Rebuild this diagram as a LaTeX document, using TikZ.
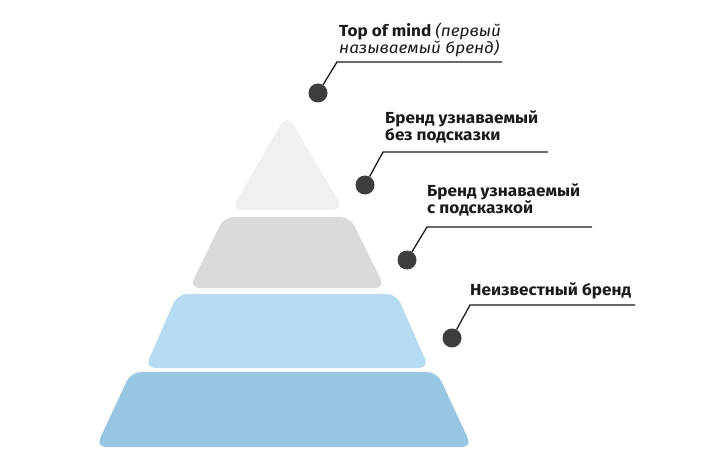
\documentclass[tikz,border=0pt]{standalone}
\usepackage{fontspec}
\setmainfont{Fira Sans}[FakeStretch=1.07]
\definecolor{tri}{HTML}{F0F0F0}
\definecolor{grayl}{HTML}{D9D9D9}
\definecolor{bluel}{HTML}{B7DBF0}
\definecolor{blued}{HTML}{98C7E3}
\definecolor{dotc}{HTML}{3D3D3F}
\definecolor{textc}{HTML}{1A1A1A}
\definecolor{linec}{HTML}{1A1A1A}
\tikzset{
  layer/.style={rounded corners=10pt, draw=none},
  dot/.style={circle, fill=dotc, minimum size=19pt, inner sep=0pt},
  lead/.style={draw=linec, line width=1.3pt},
  lbl/.style={font=\bfseries\fontsize{16}{17.5}\selectfont, text=textc, inner sep=0pt, align=left, anchor=base west}
}
\begin{document}
\begin{tikzpicture}[x=1pt,y=-1pt]
\useasboundingbox (0,0) rectangle (720,473);
% pyramid layers
\fill[tri, layer, rounded corners=12pt] (287,114) -- (344,210) -- (231,210) -- cycle;
\fill[grayl, layer] (224,217) -- (350,217) -- (385,288) -- (189.5,288) -- cycle;
\fill[bluel, layer] (177.5,294) -- (396.5,294) -- (429,368) -- (145,368) -- cycle;
\fill[blued, layer] (131,372) -- (437,372) -- (472,447) -- (96,447) -- cycle;
% dots
\node[dot] (d1) at (318,93) {};
\node[dot] (d2) at (365,185) {};
\node[dot] (d3) at (407,260) {};
\node[dot] (d4) at (452,338) {};
% elbows and ends
\coordinate (e1) at (337,62); \coordinate (f1) at (502,62);
\coordinate (e2) at (383,152); \coordinate (f2) at (548,152);
\coordinate (e3) at (427,227); \coordinate (f3) at (592,227);
\coordinate (e4) at (470,305); \coordinate (f4) at (635,305);
\draw[lead] (d1) -- (e1) -- (f1);
\draw[lead] (d2) -- (e2) -- (f2);
\draw[lead] (d3) -- (e3) -- (f3);
\draw[lead] (d4) -- (e4) -- (f4);
% labels
\node[lbl] (t1) at (339,54) {Top of mind \textmd{\textit{(первый}}\\\textmd{\textit{называемый бренд)}}};
\node[lbl] (t2) at (385,141) {Бренд узнаваемый\\без подсказки};
\node[lbl] (t3) at (427,214) {Бренд узнаваемый\\с подсказкой};
\node[lbl] (t4) at (470,295) {Неизвестный бренд};
\end{tikzpicture}
\end{document}
